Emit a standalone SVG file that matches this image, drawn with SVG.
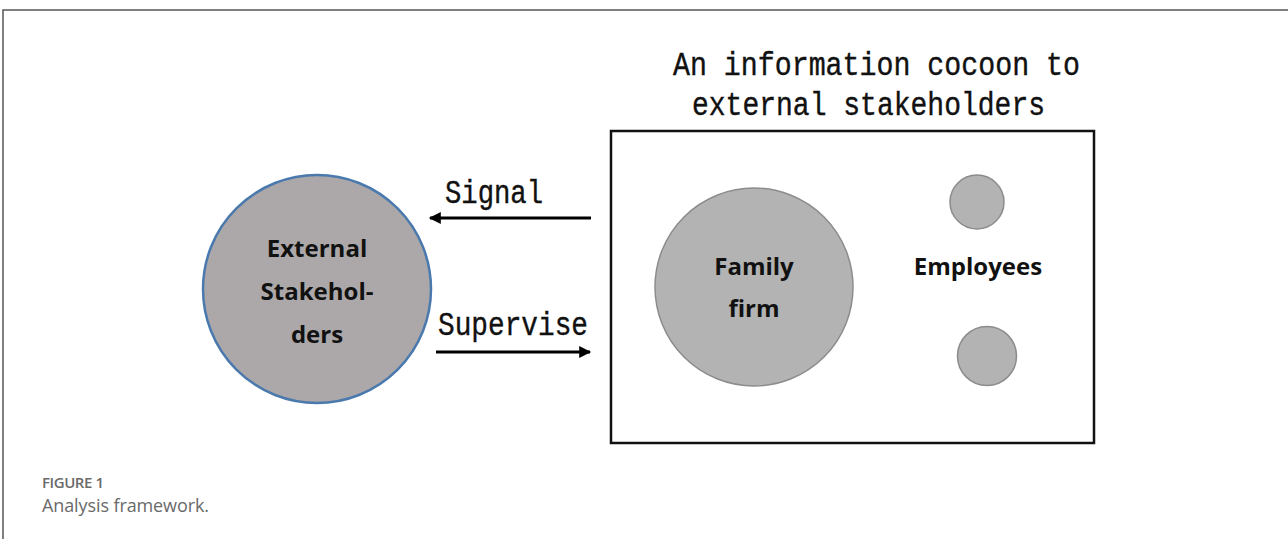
<svg xmlns="http://www.w3.org/2000/svg" width="1288" height="539" viewBox="0 0 1288 539">
  <style>
    .mono { font-family: "Liberation Mono", "DejaVu Sans Mono", monospace; font-size: 33px; fill: #111; stroke: #111; stroke-width: 0.4; }
    .label { font-family: "Open Sans", "Liberation Sans", sans-serif; font-weight: 700; font-size: 24px; fill: #111; text-anchor: middle; }
    .node { fill: #b3b3b3; stroke: #8c8c8c; stroke-width: 1.5; }
    .conn { stroke: #000; stroke-width: 3; fill: none; }
    .cap { font-family: "Open Sans", "Liberation Sans", sans-serif; fill: #6a6a6a; }
  </style>
  <defs>
    <marker id="arrow" viewBox="0 0 10 10" refX="9" refY="5" markerWidth="5.5" markerHeight="4" orient="auto" markerUnits="strokeWidth">
      <path d="M0,0 L10,5 L0,10 z" fill="#000"/>
    </marker>
  </defs>

  <rect width="1288" height="539" fill="#fff"/>
  <!-- page frame -->
  <path d="M1288,10 H3 V539" fill="none" stroke="#555" stroke-width="1.5"/>

  <!-- cocoon box and its title -->
  <g id="cocoon">
    <text class="mono" x="673" y="75" textLength="407" lengthAdjust="spacingAndGlyphs">An information cocoon to</text>
    <text class="mono" x="692" y="115" textLength="353" lengthAdjust="spacingAndGlyphs">external stakeholders</text>
    <rect x="611" y="131" width="483" height="312" fill="none" stroke="#111" stroke-width="2.5"/>
  </g>

  <g id="external-stakeholders">
    <circle cx="317" cy="289" r="114" fill="#aca8a9" stroke="#4a79ad" stroke-width="2.5"/>
    <text class="label" x="317" y="257">External</text>
    <text class="label" x="317" y="300">Stakehol-</text>
    <text class="label" x="317" y="343">ders</text>
  </g>

  <g id="family-firm">
    <circle class="node" cx="754" cy="287" r="99"/>
    <text class="label" x="754" y="275">Family</text>
    <text class="label" x="754" y="317">firm</text>
  </g>

  <g id="employees">
    <circle class="node" cx="977" cy="202" r="27"/>
    <circle class="node" cx="987" cy="356" r="29.5"/>
    <text class="label" x="978" y="275">Employees</text>
  </g>

  <g id="connectors">
    <line class="conn" x1="591" y1="218" x2="430" y2="218" marker-end="url(#arrow)"/>
    <text class="mono" x="445" y="203" textLength="98" lengthAdjust="spacingAndGlyphs">Signal</text>
    <line class="conn" x1="436" y1="352" x2="590" y2="352" marker-end="url(#arrow)"/>
    <text class="mono" x="438" y="335" textLength="150" lengthAdjust="spacingAndGlyphs">Supervise</text>
  </g>

  <text class="cap" x="42" y="488" font-size="15" font-weight="600" textLength="62">FIGURE 1</text>
  <text class="cap" x="42" y="512" font-size="18" textLength="167">Analysis framework.</text>
</svg>
